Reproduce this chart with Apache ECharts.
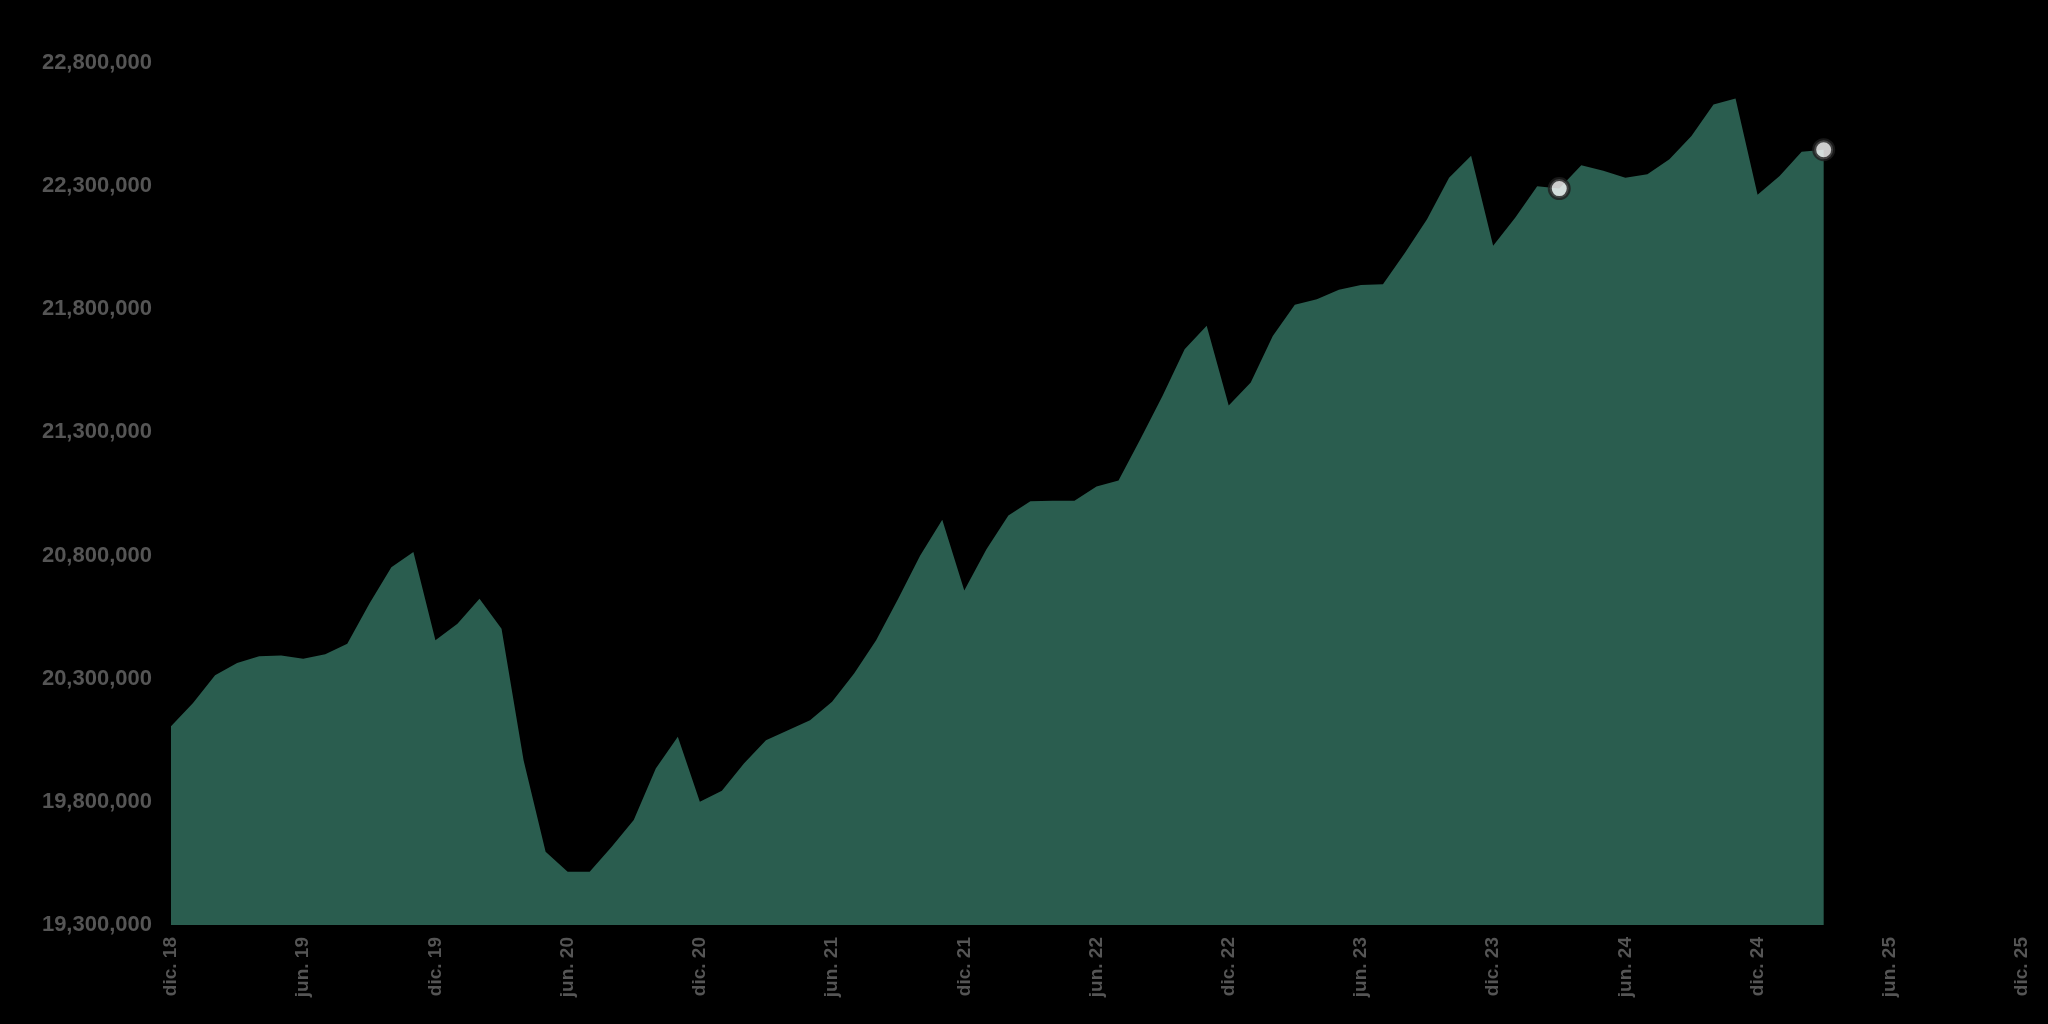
<!DOCTYPE html>
<html>
<head>
<meta charset="utf-8">
<script src="https://cdn.jsdelivr.net/npm/echarts@6/dist/echarts.min.js"></script>
<style>
  html, body { margin: 0; padding: 0; background: #000; }
  #chart { width: 2048px; height: 1024px; }
</style>
</head>
<body>
<div id="chart"></div>
<script>
// Month names (Spanish abbreviations) used to build category labels
const monthNames = ['ene.', 'feb.', 'mar.', 'abr.', 'may.', 'jun.', 'jul.', 'ago.', 'sep.', 'oct.', 'nov.', 'dic.'];
// Axis spans dic. 2018 .. dic. 2025 (85 monthly categories)
const startYear = 2018, startMonth = 11, monthCount = 85;
// Tick labels shown on the x axis (every 6 months)
const tickLabels = ['dic. 18', 'jun. 19', 'dic. 19', 'jun. 20', 'dic. 20', 'jun. 21', 'dic. 21', 'jun. 22', 'dic. 22', 'jun. 23', 'dic. 23', 'jun. 24', 'dic. 24', 'jun. 25', 'dic. 25'];

// Monthly values, dic. 2018 .. mar. 2025
const values = [
  20107000, 20201000, 20314000, 20364000, 20391000, 20394000, 20381000, 20399000, 20442000, 20604000, 20753000, 20814000,
  20456000, 20523000, 20625000, 20503000, 19969000, 19597000, 19516000, 19516000, 19618000, 19726000, 19935000, 20064000,
  19800000, 19845000, 19956000, 20050000, 20091000, 20131000, 20206000, 20321000, 20456000, 20625000, 20800000, 20945000,
  20658000, 20825000, 20963000, 21021000, 21023000, 21023000, 21080000, 21105000, 21274000, 21449000, 21638000, 21733000,
  21409000, 21503000, 21692000, 21818000, 21841000, 21879000, 21899000, 21902000, 22030000, 22166000, 22334000, 22423000,
  22058000, 22172000, 22300000, 22290000, 22385000, 22362000, 22334000, 22348000, 22409000, 22504000, 22632000, 22656000,
  22265000, 22341000, 22440000, 22448000
];
// Highlighted months (indices into values): mar. 2024 and mar. 2025
const markerIdx = [63, 75];

// Y axis ticks
const yMin = 19300000, yMax = 22800000, yStep = 500000;

const categories = [];
for (let i = 0; i < monthCount; i++) {
  const mIdx = (startMonth + i) % 12;
  const yr = startYear + Math.floor((startMonth + i) / 12);
  categories.push(monthNames[mIdx] + ' ' + String(yr).slice(2));
}

const chart = echarts.init(document.getElementById('chart'), null, { renderer: 'canvas' });
const labelFont = "'Liberation Sans', Arial, sans-serif";
chart.setOption({
  backgroundColor: '#000000',
  animation: false,
  grid: { left: 171, right: 26, top: 63, bottom: 99, containLabel: false },
  xAxis: {
    type: 'category',
    data: categories,
    boundaryGap: false,
    axisLine: { show: false },
    axisTick: { show: false },
    splitLine: { show: false },
    axisLabel: {
      interval: 5,
      rotate: 90,
      margin: 12,
      color: '#555555',
      fontWeight: 'bold',
      fontSize: 19,
      fontFamily: labelFont,
      formatter: function (v) { return tickLabels.indexOf(v) >= 0 ? v : ''; }
    }
  },
  yAxis: {
    type: 'value',
    min: yMin,
    max: yMax,
    interval: yStep,
    axisLine: { show: false },
    axisTick: { show: false },
    splitLine: { show: false },
    axisLabel: {
      margin: 19,
      color: '#555555',
      fontWeight: 'bold',
      fontSize: 22,
      fontFamily: labelFont,
      formatter: function (v) { return Math.round(v).toLocaleString('en-US'); }
    }
  },
  series: [
    {
      type: 'line',
      data: values,
      showSymbol: false,
      symbol: 'none',
      lineStyle: { width: 0 },
      areaStyle: { color: '#2a5d4f', opacity: 1, origin: 'start' },
      z: 2
    },
    {
      type: 'scatter',
      data: markerIdx.map(function (i) { return [i, values[i]]; }),
      symbol: 'circle',
      symbolSize: 19,
      itemStyle: { color: '#ffffff', borderColor: '#1e1e1e', borderWidth: 4 },
      z: 5
    }
  ]
});
</script>
</body>
</html>
